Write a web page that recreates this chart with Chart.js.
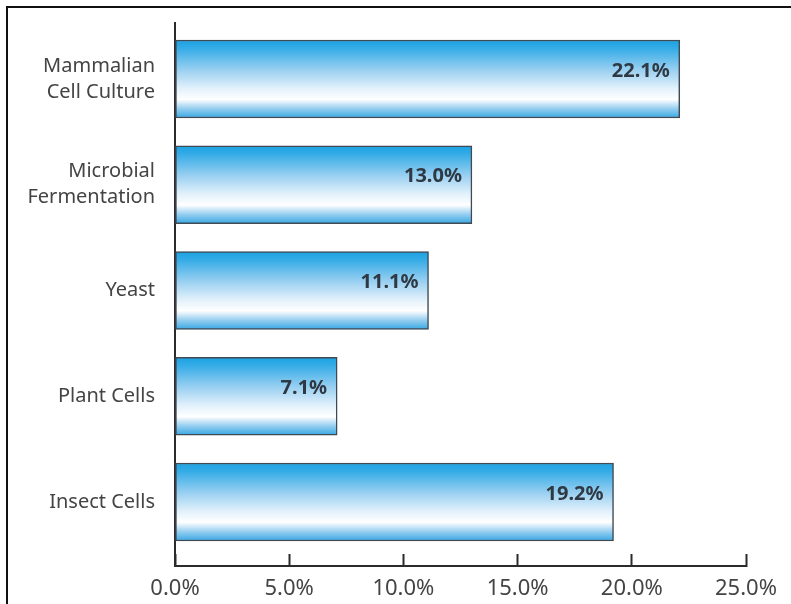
<!DOCTYPE html>
<html>
<head>
<meta charset="utf-8">
<script src="https://cdn.jsdelivr.net/npm/chart.js@4.4.1/dist/chart.umd.min.js"></script>
<style>
  html, body { margin: 0; padding: 0; background: #ffffff; }
  #wrap { position: relative; width: 791px; height: 604px; overflow: hidden; }
  #c { position: absolute; left: 0; top: 0; }
  #frame { position: absolute; left: 6px; top: 6px; right: -4px; bottom: -4px;
           border-top: 2px solid #111; border-left: 2px solid #111; pointer-events: none; }
</style>
</head>
<body>
<div id="wrap">
  <canvas id="c" width="791" height="604"></canvas>
  <div id="frame"></div>
</div>
<script>
// ---- data ----
const categories = [
  ['Mammalian', 'Cell Culture'],
  ['Microbial', 'Fermentation'],
  'Yeast',
  'Plant Cells',
  'Insect Cells'
];
const shares = [22.1, 13.0, 11.1, 7.1, 19.2];
const xTicks = [0, 5, 10, 15, 20, 25];

const points = shares.map((v, i) => ({ x: v, y: i }));

function barFill(c) {
  const chart = c.chart;
  if (!chart.chartArea || c.dataIndex === undefined || !chart.scales.y) return '#5ab4e6';
  const yc = chart.scales.y.getPixelForValue(c.dataIndex);
  const h = 39;
  const g = chart.ctx.createLinearGradient(0, yc - h, 0, yc + h);
  g.addColorStop(0.00, '#1aa2e2');
  g.addColorStop(0.10, '#33abe6');
  g.addColorStop(0.40, '#9fd2f2');
  g.addColorStop(0.62, '#e2f1fb');
  g.addColorStop(0.76, '#ffffff');
  g.addColorStop(0.88, '#95cef0');
  g.addColorStop(1.00, '#36a7e3');
  return g;
}

const valueLabels = {
  id: 'valueLabels',
  afterDatasetsDraw(chart) {
    const ctx = chart.ctx;
    const meta = chart.getDatasetMeta(0);
    ctx.save();
    ctx.font = 'bold 20px "Noto Sans", sans-serif';
    ctx.fillStyle = '#2f3943';
    ctx.textAlign = 'right';
    ctx.textBaseline = 'middle';
    meta.data.forEach((el, i) => {
      ctx.fillText(shares[i].toFixed(1) + '%', el.x - 10, el.y - 8);
    });
    ctx.restore();
  }
};

new Chart(document.getElementById('c'), {
  type: 'bar',
  data: {
    datasets: [{
      data: points,
      backgroundColor: barFill,
      borderColor: '#3f4a54',
      borderWidth: 1.5,
      borderSkipped: false,
      barThickness: 78
    }]
  },
  options: {
    indexAxis: 'y',
    responsive: false,
    animation: false,
    layout: { padding: { left: 0, top: 23, right: 45, bottom: 0 } },
    plugins: { legend: { display: false }, tooltip: { enabled: false } },
    scales: {
      x: {
        type: 'linear',
        min: 0, max: 25,
        afterBuildTicks: (s) => { s.ticks = xTicks.map(v => ({ value: v })); },
        afterFit: (s) => { s.height = 38; s.paddingLeft = 0; s.paddingRight = 0; },
        border: { display: true, color: '#2b2b2b', width: 2 },
        grid: { drawOnChartArea: false, drawTicks: true, tickLength: -12, tickWidth: 2, tickColor: '#2b2b2b' },
        ticks: {
          padding: 22,
          color: '#444444',
          font: { family: '"Noto Sans", sans-serif', size: 22 },
          callback: (v) => Number(v).toFixed(1) + '%'
        }
      },
      y: {
        type: 'linear',
        reverse: true,
        offset: false,
        grace: 0,
        min: -0.53, max: 4.605,
        afterBuildTicks: (s) => { s.ticks = categories.map((_, i) => ({ value: i })); },
        afterFit: (s) => { s.width = 175; s.paddingTop = 0; s.paddingBottom = 0; },
        border: { display: true, color: '#2b2b2b', width: 2 },
        grid: { display: false, drawTicks: false, offset: false },
        ticks: {
          padding: 20,
          color: '#444444',
          font: { family: '"Noto Sans", sans-serif', size: 20, lineHeight: 1.3 },
          callback: (v) => categories[v] !== undefined ? categories[v] : ''
        }
      }
    }
  },
  plugins: [valueLabels]
});
</script>
</body>
</html>
